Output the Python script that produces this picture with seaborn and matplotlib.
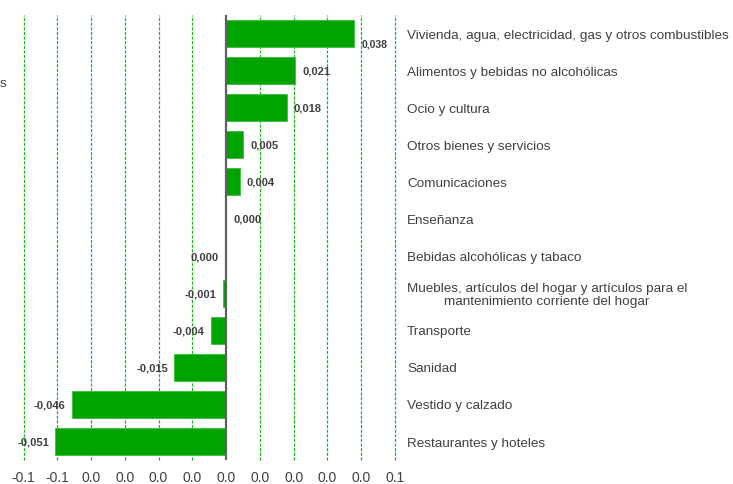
import matplotlib
matplotlib.use("Agg")
import matplotlib.pyplot as plt
import seaborn as sns
import pandas as pd

categories = [
    "Vivienda, agua, electricidad, gas y otros combustibles",
    "Alimentos y bebidas no alcohólicas",
    "Ocio y cultura",
    "Otros bienes y servicios",
    "Comunicaciones",
    "Enseñanza",
    "Bebidas alcohólicas y tabaco",
    "Muebles, artículos del hogar y artículos para el\nmantenimiento corriente del hogar",
    "Transporte",
    "Sanidad",
    "Vestido y calzado",
    "Restaurantes y hoteles",
]
values = [0.038, 0.0205, 0.018, 0.005, 0.004, 0.0, -0.0004, -0.001, -0.0045, -0.0153, -0.0457, -0.0506]
value_labels = ["0,038", "0,021", "0,018", "0,005", "0,004", "0,000",
                "0,000", "-0,001", "-0,004", "-0,015", "-0,046", "-0,051"]
ticks = [-0.06, -0.05, -0.04, -0.03, -0.02, -0.01, 0.0, 0.01, 0.02, 0.03, 0.04, 0.05]
tick_labels = ["-0.1", "-0.1", "0.0", "0.0", "0.0", "0.0", "0.0", "0.0", "0.0", "0.0", "0.0", "0.1"]

sns.set_style("white")
plt.rcParams["font.family"] = ["Liberation Sans", "DejaVu Sans"]

df = pd.DataFrame({"cat": categories, "val": values})

fig = plt.figure(figsize=(7.33, 4.85), dpi=100)
W, H = 733, 485
x0, x1, y0, y1 = 23.5, 395, 16, 461
ax = fig.add_axes([x0 / W, 1 - y1 / H, (x1 - x0) / W, (y1 - y0) / H])

sns.barplot(data=df, y="cat", x="val", orient="h", color="#00a300",
            width=0.73, saturation=1, edgecolor="#3cc03c", linewidth=0.6, ax=ax)

ax.set_xlim(ticks[0], ticks[-1])
ax.set_ylim(len(categories) - 0.5, -0.5)
for t in ticks:
    if t != 0.0:
        ax.axvline(t, color="#1eb41e", lw=0.9, ls=(0, (2.5, 1.2)), zorder=0, clip_on=False)
ax.axvline(0, color="#606060", lw=1.6, zorder=3)

for sp in ax.spines.values():
    sp.set_visible(False)
ax.set_xticks(ticks)
ax.set_xticklabels(tick_labels)
ax.tick_params(axis="x", length=0, pad=7, labelsize=10, labelcolor="#404040")
ax.set_yticks([])
ax.set_xlabel("")
ax.set_ylabel("")

px = (ticks[-1] - ticks[0]) / (x1 - x0)
for i, (v, lab) in enumerate(zip(values, value_labels)):
    if i == 0:
        ax.text(v + 7 * px, i + 0.26, lab, ha="left", va="center", fontsize=7.5,
                fontweight="bold", color="#404040", zorder=4)
    elif v >= 0:
        ax.text(v + 7 * px, i, lab, ha="left", va="center", fontsize=8,
                fontweight="bold", color="#404040", zorder=4)
    else:
        ax.text(v - 6 * px, i, lab, ha="right", va="center", fontsize=8,
                fontweight="bold", color="#404040", zorder=4)

tr = ax.get_yaxis_transform()
for i, c in enumerate(categories):
    ax.text(1 + (407 - x1) / (x1 - x0), i + 0.03, c, transform=tr, ha="left", va="center",
            fontsize=9.7, color="#404040", multialignment="center", linespacing=1.15)

fig.text(0.0, 1 - 84 / H, "s", ha="left", va="center", fontsize=9.7, color="#404040")

fig.savefig("out.png", dpi=100)
